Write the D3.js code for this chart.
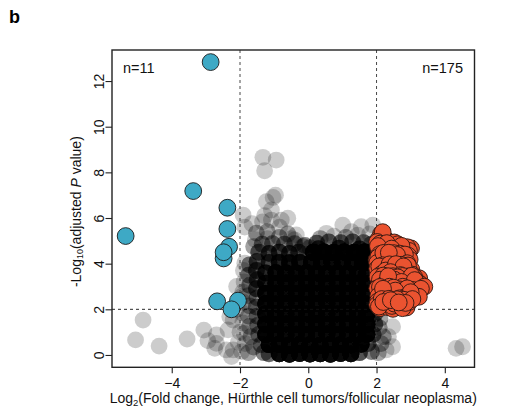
<!DOCTYPE html>
<html><head><meta charset="utf-8">
<script src="https://cdn.jsdelivr.net/npm/d3@7"></script>
<style>
body{margin:0;background:#fff}
svg{display:block;font-family:"Liberation Sans",Arial,Helvetica,sans-serif}
</style>
</head><body>
<svg id="chart" width="505" height="416"></svg>
<script>
// ---------------- DATA ----------------
// x = log2 fold change, y = -log10 adjusted P
const xTicks = [-4, -2, 0, 2, 4];
const yTicks = [0, 2, 4, 6, 8, 10, 12];
const foldCutoffs = [-2, 2];
const pCutoffs = [2];
const countLabels = ["n=11", "n=175"];

// Down-regulated genes (11)
const downGenes = [
  [-2.86, 12.83], [-3.37, 7.18], [-5.35, 5.21], [-2.37, 6.45], [-2.37, 5.52],
  [-2.32, 4.74], [-2.48, 4.23], [-2.48, 4.50], [-2.67, 2.35], [-2.06, 2.38], [-2.25, 2.00]
];

// Up-regulated genes (175)
const upGenes = [
  [2.13,5.30],[2.22,5.12],[2.05,5.05],[2.30,5.02],[2.18,5.38],
  [2.02,4.95],[2.28,4.52],[2.47,4.82],[2.77,4.60],[3.01,4.67],[2.11,4.88],[2.35,4.74],[2.58,4.70],[2.66,4.55],[2.90,4.72],[2.06,4.62],
  [2.19,4.71],[2.41,4.58],[2.52,4.93],[2.84,4.51],[2.95,4.56],[2.15,4.53],[2.62,4.85],[2.30,4.90],[2.73,4.78],[2.04,4.77],[2.44,4.66],
  [2.00,4.16],[2.23,4.16],[2.57,4.31],[2.87,4.09],[2.10,4.42],[2.33,4.38],[2.45,4.22],[2.68,4.44],[2.78,4.25],[2.93,4.35],[2.05,4.28],
  [2.16,4.05],[2.39,4.07],[2.51,4.46],[2.62,4.12],[2.71,4.02],[2.97,4.18],[2.27,4.30],[2.83,4.40],[2.02,4.03],[2.48,4.13],[2.20,4.47],
  [2.60,4.38],[2.36,4.48],[2.90,4.02],
  [2.04,3.50],[2.43,3.58],[2.77,3.72],[2.12,3.65],[2.25,3.85],[2.34,3.72],[2.55,3.90],[2.66,3.62],[2.88,3.83],[2.96,3.60],[2.02,3.78],
  [2.18,3.93],[2.30,3.55],[2.47,3.80],[2.60,3.52],[2.72,3.95],[2.83,3.55],[3.02,3.74],[2.08,3.88],[2.38,3.97],[2.51,3.66],[2.64,3.83],
  [2.92,3.92],[3.05,3.52],[2.14,3.54],[2.27,3.70],[2.57,3.98],[2.79,3.88],[2.41,3.63],[2.70,3.50],
  [3.25,3.36],[3.06,3.29],[2.03,3.42],[2.15,3.20],[2.26,3.35],[2.37,3.10],[2.48,3.45],[2.59,3.25],[2.70,3.38],[2.81,3.15],[2.92,3.44],
  [3.15,3.12],[2.06,3.05],[2.20,3.48],[2.32,3.28],[2.44,3.02],[2.55,3.16],[2.66,3.05],[2.76,3.46],[2.88,3.30],[2.99,3.05],[3.10,3.42],
  [3.20,3.20],[3.30,3.08],[2.10,3.30],[2.40,3.38],[2.62,3.40],[2.85,3.02],[2.96,3.22],[3.03,3.47],[2.23,3.10],[2.52,3.30],[2.73,3.20],
  [3.12,3.28],[2.34,3.45],
  [3.40,2.99],[2.38,2.99],[2.77,2.99],[2.08,2.70],[2.96,2.63],[2.02,2.92],[2.14,2.55],[2.24,2.85],[2.33,2.62],[2.46,2.78],[2.57,2.55],
  [2.65,2.88],[2.85,2.72],[3.06,2.85],[3.18,2.70],[3.30,2.90],[2.10,2.98],[2.28,2.72],[2.50,2.95],[2.62,2.68],[2.73,2.58],[2.90,2.92],
  [3.10,2.60],[3.24,2.55],[2.05,2.58],[2.41,2.52],[2.55,2.82],[2.82,2.52],[3.00,2.75],[2.19,2.90],
  [2.67,2.48],[2.18,2.19],[2.62,2.12],[2.04,2.35],[2.10,2.05],[2.25,2.42],[2.32,2.10],[2.40,2.30],[2.48,2.02],[2.55,2.38],[2.72,2.20],
  [2.80,2.42],[2.88,2.08],[2.95,2.32],[3.05,2.45],[2.02,2.20],[2.15,2.45],[2.28,2.27],[2.36,2.46],[2.45,2.15],[2.52,2.25],[2.60,2.44],
  [2.76,2.05],[2.85,2.28],[2.07,2.12],[2.20,2.32],[2.42,2.40],[2.65,2.30]
];

// Non-significant genes: [x, y, number of genes overlapping at that spot]
const nsCore = [
  [-0.85,0.05,14],[-0.55,0.03,14],[-0.25,0.06,14],[0.05,0.04,14],[0.35,0.05,14],[0.65,0.03,14],[0.95,0.06,14],[1.25,0.05,14],
  [-1.15,0.45,14],[-0.85,0.47,14],[-0.55,0.44,14],[-0.25,0.46,14],[0.05,0.45,14],[0.35,0.43,14],[0.65,0.46,14],[0.95,0.45,14],[1.25,0.44,14],[1.55,0.47,14],
  [-1.25,0.90,14],[-0.95,0.92,14],[-0.65,0.88,14],[-0.35,0.91,14],[-0.05,0.90,14],[0.25,0.89,14],[0.55,0.92,14],[0.85,0.90,14],[1.15,0.88,14],[1.45,0.91,14],[1.72,0.90,14],
  [-1.25,1.35,14],[-0.95,1.33,14],[-0.65,1.36,14],[-0.35,1.35,14],[-0.05,1.34,14],[0.25,1.37,14],[0.55,1.35,14],[0.85,1.33,14],[1.15,1.36,14],[1.45,1.35,14],[1.72,1.34,14],
  [-1.25,1.80,14],[-0.95,1.82,14],[-0.65,1.79,14],[-0.35,1.81,14],[-0.05,1.80,14],[0.25,1.78,14],[0.55,1.81,14],[0.85,1.80,14],[1.15,1.82,14],[1.45,1.79,14],[1.72,1.80,14],
  [-1.25,2.25,14],[-0.95,2.24,14],[-0.65,2.27,14],[-0.35,2.25,14],[-0.05,2.23,14],[0.25,2.26,14],[0.55,2.25,14],[0.85,2.24,14],[1.15,2.26,14],[1.45,2.25,14],[1.72,2.24,14],
  [-1.25,2.70,12],[-0.95,2.71,14],[-0.65,2.69,14],[-0.35,2.70,14],[-0.05,2.72,14],[0.25,2.70,14],[0.55,2.68,14],[0.85,2.71,14],[1.15,2.70,14],[1.45,2.69,14],[1.72,2.71,14],
  [-1.25,3.15,9],[-0.95,3.14,14],[-0.65,3.16,14],[-0.35,3.15,14],[-0.05,3.13,14],[0.25,3.16,14],[0.55,3.15,14],[0.85,3.14,14],[1.15,3.16,14],[1.45,3.15,14],[1.72,3.14,14],
  [-1.25,3.60,8],[-0.95,3.61,13],[-0.65,3.59,14],[-0.35,3.60,14],[-0.05,3.62,14],[0.25,3.60,14],[0.55,3.59,14],[0.85,3.61,14],[1.15,3.60,14],[1.45,3.58,14],[1.72,3.60,14],
  [-1.15,4.05,6],[-0.85,4.06,9],[-0.55,4.04,11],[-0.25,4.05,11],[0.10,4.06,14],[0.40,4.04,14],[0.70,4.05,14],[1.00,4.06,14],[1.30,4.04,14],[1.60,4.05,14],[1.75,4.06,14],
  [0.15,4.50,14],[0.45,4.52,14],[0.75,4.49,14],[1.05,4.51,14],[1.35,4.50,14],[1.65,4.52,14],[1.75,4.48,14],
  [0.30,4.66,6],[0.90,4.68,6],[1.50,4.65,6]
];

const nsEdge = [
  // left lobe top
  [-1.45,4.50,4],[-1.15,4.45,6],[-0.85,4.50,6],[-0.55,4.45,6],[-0.28,4.50,5],[-1.35,4.85,3],[-1.05,4.88,3],[-0.70,4.85,3],
  [-0.40,4.88,3],[-0.10,4.80,3],[-1.60,4.75,2],[-1.20,5.10,1],[-0.85,5.15,2],[-1.55,5.05,1],[-0.50,5.10,1],
  // left flank
  [-1.50,4.10,5],[-1.52,3.70,5],[-1.50,3.30,5],[-1.52,2.90,5],
  [-1.72,3.95,3],[-1.75,3.50,3],[-1.72,3.05,3],
  [-1.50,2.50,3],[-1.52,2.10,3],[-1.50,1.70,3],[-1.48,1.30,3],[-1.45,0.90,3],[-1.38,0.45,3],[-1.15,0.05,4],
  [-1.76,2.60,2],[-1.72,2.15,2],[-1.75,1.70,2],[-1.72,1.25,2],[-1.68,0.80,2],[-1.60,0.35,2],
  [-1.90,3.70,1],[-1.88,3.20,1],[-1.92,2.75,1],[-1.90,2.30,1],[-1.95,1.85,1],[-1.92,1.40,1],[-1.88,0.95,1],[-1.85,0.50,1],[-1.75,0.10,2],
  [-2.00,1.00,1],[-2.05,0.55,1],[-1.95,0.15,1],[-2.10,2.00,1],[-1.30,0.10,3],
  // right flank below the cut-off
  [1.50,0.10,5],[1.75,0.50,4],[1.90,0.90,4],[1.95,1.35,4],[1.95,1.80,4],[2.10,1.60,2],[2.08,1.20,2],[2.20,0.80,2],[2.13,0.50,2],
  [2.28,0.22,1],[2.47,1.24,1],[2.47,0.36,1],[2.35,0.80,1],[1.85,0.15,3],[2.05,0.10,2],
  // rim and scatter above right block
  [0.25,4.90,4],[0.60,4.95,4],[0.95,4.92,4],[1.30,4.95,4],[1.62,4.92,4],[1.85,4.85,3],
  [0.53,5.33,1],[1.01,5.69,1],[1.55,5.62,1],[1.89,5.69,1],[1.26,5.40,1],[0.75,5.20,1],[1.80,5.30,1],[1.45,5.25,1],[0.35,5.10,2],[1.10,5.15,2],
  [-0.40,5.04,1],[-0.15,4.75,2],[0.05,4.70,2],
  // column above left lobe
  [-1.91,6.13,1],[-1.33,8.66,1],[-0.94,8.54,1],[-1.28,8.07,1],[-0.96,7.00,1],[-1.03,6.90,1],[-1.23,6.72,1],[-1.08,6.35,1],[-1.28,6.10,1],
  [-0.60,5.99,1],[-0.79,5.91,1],[-1.08,5.91,1],[-1.34,5.83,1],[-1.52,5.34,2],[-0.84,5.60,1],[-0.35,5.26,1],[-1.86,5.60,1],[-1.65,5.75,1],
  [-1.20,5.40,2],[-0.60,5.30,2],
  // near the left cut-off
  [-1.86,4.02,1],[-2.10,3.00,1],[-1.96,2.55,1],[-2.30,1.68,1],[-2.35,1.10,1],[-2.69,0.51,1],[-2.20,0.22,1],
  // scattered
  [-4.84,1.53,1],[-5.06,0.66,1],[-4.37,0.39,1],[-3.55,0.70,1],[-3.06,1.09,1],[-2.94,0.63,1],[-2.69,0.88,1],[-2.74,0.29,1],
  [-2.40,0.22,1],[-2.25,-0.07,1],[-2.20,1.53,1],[4.33,0.29,1],[4.52,0.36,1]
];

// ---------------- CHART ----------------
const svg = d3.select("#chart");
const x = d3.scaleLinear().domain([-5.75, 4.87]).range([112, 474.5]);
const y = d3.scaleLinear().domain([-0.54, 13.36]).range([367.3, 50]);
const [x0, x1] = x.range(), [y0, y1] = y.range();
const R = 8.4;

svg.append("defs").append("clipPath").attr("id", "clip")
  .append("rect").attr("x", x0).attr("y", y1).attr("width", x1 - x0).attr("height", y0 - y1);

const plot = svg.append("g").attr("clip-path", "url(#clip)");

// non-significant genes (stacked multiplicity)
const nsAll = nsCore.concat(nsEdge).flatMap(d => d3.range(d[2]).map(() => d));
plot.append("g").selectAll("circle").data(nsAll).join("circle")
  .attr("cx", d => x(d[0])).attr("cy", d => y(d[1])).attr("r", R)
  .attr("fill", "#000").attr("fill-opacity", 0.2);

// threshold lines
plot.append("g").selectAll("line").data(foldCutoffs).join("line")
  .attr("x1", d => x(d)).attr("x2", d => x(d)).attr("y1", y1).attr("y2", y0)
  .attr("stroke", "#333").attr("stroke-width", 0.9).attr("stroke-dasharray", "3,3");
plot.append("g").selectAll("line").data(pCutoffs).join("line")
  .attr("x1", x0).attr("x2", x1).attr("y1", d => y(d)).attr("y2", d => y(d))
  .attr("stroke", "#111").attr("stroke-width", 0.9).attr("stroke-dasharray", "3,3");

// significant genes
plot.append("g").selectAll("circle").data(downGenes).join("circle")
  .attr("cx", d => x(d[0])).attr("cy", d => y(d[1])).attr("r", R)
  .attr("fill", "#3ea9c5").attr("stroke", "#1b1b1b").attr("stroke-width", 0.9);
plot.append("g").selectAll("circle").data(upGenes).join("circle")
  .attr("cx", d => x(d[0])).attr("cy", d => y(d[1])).attr("r", R)
  .attr("fill", "#ea5330").attr("stroke", "#2a1510").attr("stroke-width", 0.9);

// box
svg.append("rect").attr("x", x0).attr("y", y1).attr("width", x1 - x0).attr("height", y0 - y1)
  .attr("fill", "none").attr("stroke", "#222").attr("stroke-width", 1.4);

// axes
const xAxis = svg.append("g").attr("transform", `translate(0,${y0})`)
  .call(d3.axisBottom(x).tickValues(xTicks).tickSize(6).tickFormat(d => d < 0 ? "\u2212" + Math.abs(d) : d));
xAxis.select(".domain").remove();
xAxis.selectAll("line").attr("stroke", "#222").attr("stroke-width", 1.1);
xAxis.selectAll("text").attr("y", 21).attr("dy", 0).attr("font-size", 14)
  .attr("fill", "#111").attr("font-family", "Liberation Sans, Arial, sans-serif");

const yAxis = svg.append("g").attr("transform", `translate(${x0},0)`)
  .call(d3.axisLeft(y).tickValues(yTicks).tickSize(6.5));
yAxis.select(".domain").remove();
yAxis.selectAll("line").attr("stroke", "#222").attr("stroke-width", 1.1);
yAxis.selectAll("text").attr("transform", "rotate(-90)").attr("x", 0).attr("y", -8.5).attr("dy", 0)
  .attr("text-anchor", "middle").attr("font-size", 14).attr("fill", "#111")
  .attr("font-family", "Liberation Sans, Arial, sans-serif");

// count labels
svg.append("text").attr("x", x0 + 11).attr("y", 72.5).attr("font-size", 14.5).attr("fill", "#111").text(countLabels[0]);
svg.append("text").attr("x", x1 - 11.5).attr("y", 72.5).attr("font-size", 14.5).attr("fill", "#111")
  .attr("text-anchor", "end").text(countLabels[1]);

// axis titles
const xt = svg.append("text").attr("x", (x0 + x1) / 2).attr("y", 403).attr("text-anchor", "middle")
  .attr("font-size", 14).attr("fill", "#111");
xt.append("tspan").text("Log");
xt.append("tspan").attr("font-size", 9.5).attr("dy", 3).text("2");
xt.append("tspan").attr("dy", -3).text("(Fold change, H\u00fcrthle cell tumors/follicular neoplasma)");

const yt = svg.append("text").attr("transform", `translate(81,${(y0 + y1) / 2 + 3}) rotate(-90)`)
  .attr("text-anchor", "middle").attr("font-size", 14).attr("fill", "#111");
yt.append("tspan").text("-Log");
yt.append("tspan").attr("font-size", 9).attr("dy", 1.5).text("10");
yt.append("tspan").attr("dy", -1.5).text("(adjusted ");
yt.append("tspan").attr("font-style", "italic").text("P");
yt.append("tspan").text(" value)");

// panel letter
svg.append("text").attr("x", 9).attr("y", 23).attr("font-size", 18).attr("font-weight", "bold")
  .attr("fill", "#000").text("b");
</script>
</body></html>
